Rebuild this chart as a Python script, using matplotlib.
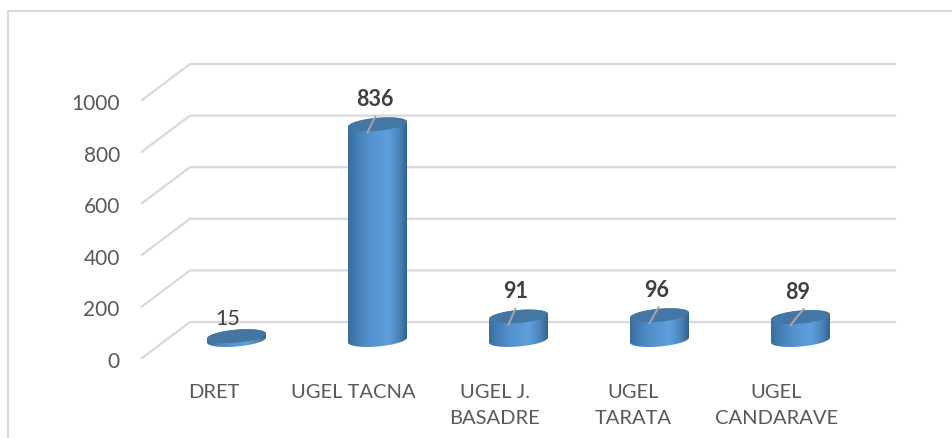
import numpy as np
import matplotlib
matplotlib.use('Agg')
import matplotlib.pyplot as plt
from matplotlib.colors import LinearSegmentedColormap
from matplotlib.lines import Line2D
from matplotlib.patches import Polygon
from matplotlib.transforms import IdentityTransform, Affine2D

categories = ['DRET', 'UGEL TACNA', 'UGEL J.\nBASADRE', 'UGEL\nTARATA', 'UGEL\nCANDARAVE']
values = [15, 836, 91, 96, 89]
y_ticks = [0, 200, 400, 600, 800, 1000]
label_shift = [1, 0, 0, -2, 0]  # ajuste horizontal de las etiquetas, pixeles
leader_dx = [0, 8, 7, 9, 13]  # inclinacion de las lineas guia, pixeles

W, H = 952, 439
GRID = '#d9d9d9'
DEPTH = (48, 36)  # desplazamiento de la pared del fondo, en pixeles

plt.rcParams['font.family'] = ['Lato', 'DejaVu Sans']
fig = plt.figure(figsize=(W / 100, H / 100), dpi=100)
ax = fig.add_axes([142 / W, (H - 359) / H, 705 / W, 258 / H])
ax.set_xlim(-0.5, 4.5)
ax.set_ylim(0, 1000)
ax.set_autoscale_on(False)
for s in ax.spines.values():
    s.set_visible(False)
ax.patch.set_alpha(0)

ax.set_yticks(y_ticks)
ax.set_xticks(range(len(categories)))
ax.set_xticklabels(categories, linespacing=1.63)
ax.tick_params(axis='y', length=0, pad=16, labelsize=15, labelcolor='#595959')
ax.tick_params(axis='x', length=0, pad=18, labelsize=14.5, labelcolor='#595959')

for lab in ax.get_yticklabels():
    lab.set_transform(lab.get_transform() + Affine2D().translate(0, -1))
for lab, dx in zip(ax.get_xticklabels(), label_shift):
    lab.set_transform(lab.get_transform() + Affine2D().translate(dx, 0))

px = IdentityTransform()

# marco exterior
fig.add_artist(Line2D([8 / W, 8 / W, 1], [0, (H - 12) / H, (H - 12) / H], color=GRID, lw=1.5))

# rejilla: pared del fondo y diagonal lateral
for v in y_ticks:
    x0, y0 = ax.transData.transform((-0.5, v))
    x1, y1 = ax.transData.transform((4.5, v))
    ax.plot([x0, x0 + DEPTH[0], x1 + DEPTH[0]], [y0, y0 + DEPTH[1], y1 + DEPTH[1]],
            color=GRID, lw=1.6, transform=px, clip_on=False, zorder=1)

body_cmap = LinearSegmentedColormap.from_list('cyl', [
    (0.0, '#3a6c9c'), (0.12, '#437cb2'), (0.35, '#5390cb'), (0.68, '#5e9fdd'),
    (0.88, '#4a82b8'), (1.0, '#33618c')])
gradient = np.linspace(0, 1, 256).reshape(1, -1)


def ellipse_points(cx, cy, t, a=29.5, b=6.5, tilt=0.085):
    return np.column_stack([cx + a * np.cos(t), cy + a * tilt * np.cos(t) + b * np.sin(t)])


for i, v in enumerate(values):
    bx, by = ax.transData.transform((i, 0)) + np.array(DEPTH) / 2
    tx, ty = ax.transData.transform((i, v)) + np.array(DEPTH) / 2

    # cuerpo del cilindro con degradado
    outline = np.vstack([ellipse_points(bx, by, np.linspace(np.pi, 2 * np.pi, 40)),
                         ellipse_points(tx, ty, np.linspace(0, np.pi, 40))])
    clip = Polygon(outline, closed=True, transform=px, fc='none', ec='none')
    ax.add_patch(clip)
    im = ax.imshow(gradient, cmap=body_cmap, aspect='auto', transform=px, zorder=2,
                   extent=[bx - 29.5, bx + 29.5, by - 12, ty + 12])
    im.set_clip_path(clip)

    # tapa
    cap = ellipse_points(tx, ty, np.linspace(0, 2 * np.pi, 80))
    ax.add_patch(Polygon(cap, closed=True, transform=px, fc='#44769f' if v < 50 else '#4577a6',
                         ec='none', zorder=3, clip_on=False))

    # etiquetas de valor
    if v >= 50:
        ax.plot([tx - 10, tx - 10 + leader_dx[i]], [ty - 8, ty + 8], color='#a6a6a6', lw=1.4,
                transform=px, clip_on=False, zorder=4)
        ax.text(tx - 3, ty + 26, str(v), transform=px, ha='center', va='center',
                fontsize=15.5, fontweight='bold', color='#404040', zorder=5)
    else:
        ax.text(tx - 9, ty + 18, str(v), transform=px, ha='center', va='center',
                fontsize=15.5, color='#404040', zorder=5)

ax.set_xlim(-0.5, 4.5)
ax.set_ylim(0, 1000)
fig.savefig('out.png', dpi=100)
